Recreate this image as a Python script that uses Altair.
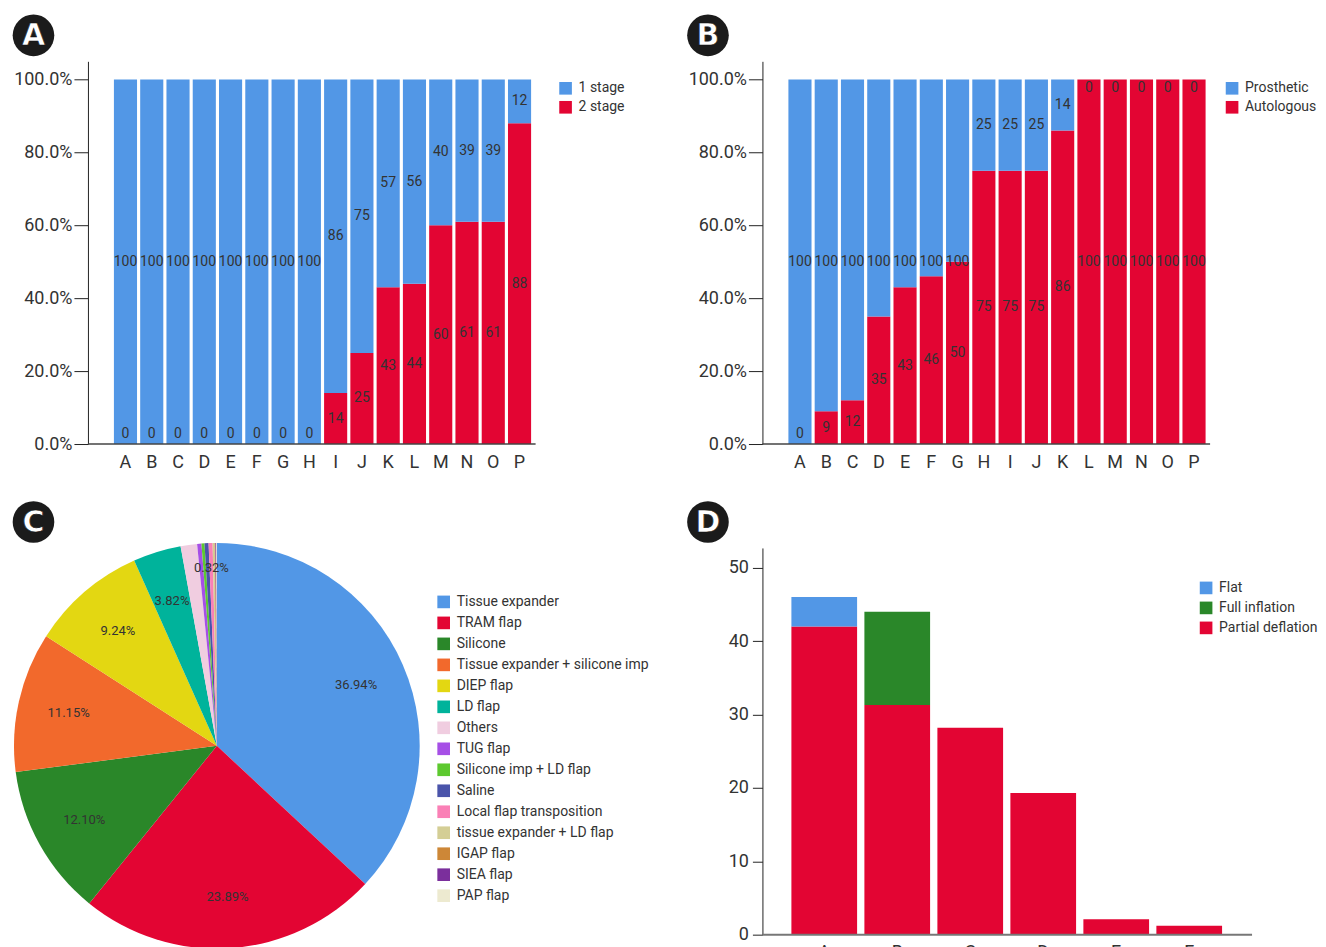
import altair as alt
import pandas as pd

FONT = "Roboto"
BLUE = "#5297E6"
RED = "#E30533"
GREEN = "#2A8729"
TXT = "#333333"

# ---------------- data ----------------
categories = list("ABCDEFGHIJKLMNOP")
a_one_stage = [100, 100, 100, 100, 100, 100, 100, 100, 86, 75, 57, 56, 40, 39, 39, 12]
a_two_stage = [0, 0, 0, 0, 0, 0, 0, 0, 14, 25, 43, 44, 60, 61, 61, 88]

b_prosthetic = [100, 100, 100, 100, 100, 100, 100, 25, 25, 25, 14, 0, 0, 0, 0, 0]
b_autologous = [0, 9, 12, 35, 43, 46, 50, 75, 75, 75, 86, 100, 100, 100, 100, 100]

pie_names = ["Tissue expander", "TRAM flap", "Silicone", "Tissue expander + silicone imp",
             "DIEP flap", "LD flap", "Others", "TUG flap", "Silicone imp + LD flap", "Saline",
             "Local flap transposition", "tissue expander + LD flap", "IGAP flap", "SIEA flap",
             "PAP flap"]
pie_values = [36.94, 23.89, 12.10, 11.15, 9.24, 3.82, 1.31, 0.34, 0.24, 0.32, 0.32, 0.16, 0.06, 0.06, 0.05]
pie_labels = ["36.94%", "23.89%", "12.10%", "11.15%", "9.24%", "3.82%", "", "", "", "",
              "0.32%", "", "", "", ""]
pie_colors = ["#5297E6", "#E30533", "#2A8729", "#F2692C", "#E3D712", "#00B39B", "#F0CDE0",
              "#A64FE6", "#5DC92F", "#4A54AA", "#FA80B6", "#D4CE95", "#CD8737", "#7B2F9C",
              "#EDEAD0"]

d_categories = list("ABCDEF")
d_flat = [4, 0, 0, 0, 0, 0]
d_full = [0, 12.7, 0, 0, 0, 0]
d_partial = [42, 31.3, 28.2, 19.3, 2.1, 1.2]
d_series = ["Flat", "Full inflation", "Partial deflation"]


def letter(ch):
    d = pd.DataFrame({"t": [ch]})
    circ = alt.Chart(d).mark_circle(size=1735, color="#1b1b1b", opacity=1).encode(
        x=alt.value(-54.5), y=alt.value(-26))
    txt = alt.Chart(d).mark_text(color="white", fontSize=30, fontWeight="bold",
                                 font="DejaVu Sans", align="center", baseline="middle",
                                 stroke="#111", strokeWidth=0.6).encode(
        x=alt.value(-54.5), y=alt.value(-25), text="t:N")
    return circ + txt


def legend(x, y, pad):
    return alt.Legend(orient="none", legendX=x, legendY=y, title=None, symbolType="square",
                      symbolSize=160, symbolStrokeWidth=0, labelFontSize=14, labelColor=TXT,
                      labelFont=FONT, rowPadding=pad, labelOffset=6, labelLimit=0)


def pct_panel(top_vals, bot_vals, top_name, bot_name, ch, lx):
    rows = []
    for c, t, b in zip(categories, top_vals, bot_vals):
        rows.append(dict(cat=c, series=bot_name, y0=0, y1=b, lbl=str(b), pos=max(b / 2, 2.7)))
        rows.append(dict(cat=c, series=top_name, y0=b, y1=100, lbl=str(t),
                         pos=min(100 - t / 2, 97.6)))
    df = pd.DataFrame(rows)
    xs = alt.Scale(domain=categories, range=[26, 443.5], paddingInner=0.12, paddingOuter=0)
    ys = alt.Scale(domain=[0, 105], nice=False)
    base = alt.Chart(df)
    bars = base.mark_bar().encode(
        x=alt.X("cat:N", scale=xs, sort=categories,
                axis=alt.Axis(title=None, domain=False, ticks=False, labelAngle=0,
                              labelFontSize=18, labelColor=TXT, labelFont=FONT, labelPadding=9)),
        y=alt.Y("y1:Q", scale=ys,
                axis=alt.Axis(values=[0, 20, 40, 60, 80, 100],
                              labelExpr="format(datum.value, '.1f') + '%'",
                              title=None, grid=False, domainColor="#222", tickColor="#222",
                              tickSize=14, labelPadding=2, labelFontSize=18, labelColor=TXT,
                              labelFont=FONT)),
        y2="y0:Q",
        color=alt.Color("series:N", scale=alt.Scale(domain=[top_name, bot_name],
                                                     range=[BLUE, RED]),
                        legend=legend(lx, 20, 5)),
    )
    labels = base.mark_text(fontSize=14, color=TXT, font=FONT, baseline="middle").encode(
        x=alt.X("cat:N", scale=xs, sort=categories),
        y=alt.Y("pos:Q", scale=ys),
        text="lbl:N",
    )
    axis_line = alt.Chart(pd.DataFrame({"v": [0]})).mark_rule(color="#444", strokeWidth=1.5).encode(
        x=alt.value(0), x2=alt.value(448), y=alt.value(383))
    return alt.layer(bars, labels, axis_line, letter(ch)).properties(width=448, height=383)


panel_a = pct_panel(a_one_stage, a_two_stage, "1 stage", "2 stage", "A", 471)
panel_b = pct_panel(b_prosthetic, b_autologous, "Prosthetic", "Autologous", "B", 463)

# ---------------- pie ----------------
pie_df = pd.DataFrame({"name": pie_names, "value": pie_values, "idx": list(range(len(pie_names)))})
pie_df["lbl_big"] = [l if v >= 1 else "" for l, v in zip(pie_labels, pie_values)]
pie_df["lbl_small"] = [l if v < 1 else "" for l, v in zip(pie_labels, pie_values)]
pbase = alt.Chart(pie_df)
theta = alt.Theta("value:Q", stack=True)
arcs = pbase.mark_arc(outerRadius=203).encode(
    theta=theta,
    order=alt.Order("idx:Q"),
    color=alt.Color("name:N", scale=alt.Scale(domain=pie_names, range=pie_colors),
                    legend=legend(349, 47, 7)),
)
plabels_big = pbase.mark_text(fontSize=13, color=TXT, font=FONT, radius=152).encode(
    theta=theta, order=alt.Order("idx:Q"), text="lbl_big:N")
plabels_small = pbase.mark_text(fontSize=13, color=TXT, font=FONT, radius=178).encode(
    theta=theta, order=alt.Order("idx:Q"), text="lbl_small:N")
panel_c = alt.layer(arcs, plabels_big, plabels_small, letter("C")).properties(width=258, height=396)

# ---------------- D ----------------
drows = []
for i, c in enumerate(d_categories):
    drows.append(dict(cat=c, series="Partial deflation", value=d_partial[i], ord=0))
    drows.append(dict(cat=c, series="Full inflation", value=d_full[i], ord=1))
    drows.append(dict(cat=c, series="Flat", value=d_flat[i], ord=2))
ddf = pd.DataFrame(drows)
dbars = alt.Chart(ddf).mark_bar().encode(
    x=alt.X("cat:N", sort=d_categories,
            scale=alt.Scale(domain=d_categories, range=[29, 460], paddingInner=0.1, paddingOuter=0),
            axis=alt.Axis(title=None, domain=False, ticks=False, labelAngle=0, labelFontSize=18,
                          labelColor=TXT, labelFont=FONT, labelPadding=9)),
    y=alt.Y("value:Q", stack="zero", scale=alt.Scale(domain=[0, 52.7], nice=False),
            axis=alt.Axis(values=[0, 10, 20, 30, 40, 50], title=None, grid=False,
                          domainColor="#222", tickColor="#222", tickSize=10, labelPadding=4,
                          labelFontSize=18, labelColor=TXT, labelFont=FONT)),
    order=alt.Order("ord:Q"),
    color=alt.Color("series:N", scale=alt.Scale(domain=d_series, range=[BLUE, GREEN, RED]),
                    legend=legend(437, 33, 6)),
)
d_axis = alt.Chart(pd.DataFrame({"v": [0]})).mark_rule(color="#777", strokeWidth=2).encode(
    x=alt.value(0), x2=alt.value(490), y=alt.value(387))
panel_d = alt.layer(dbars, d_axis, letter("D")).properties(width=490, height=387)

chart = alt.concat(panel_a, panel_b, panel_c, panel_d, columns=2,
                   spacing={"row": 104, "column": 227}, bounds="flush", align="each").resolve_scale(
    color="independent", x="independent", y="independent").resolve_legend(
    color="independent").properties(padding={"left": 4, "top": 6, "right": 0, "bottom": 0}
).configure(font=FONT).configure_view(stroke=None)

chart.save("out.html", embed_options={"renderer": "svg", "actions": False})
